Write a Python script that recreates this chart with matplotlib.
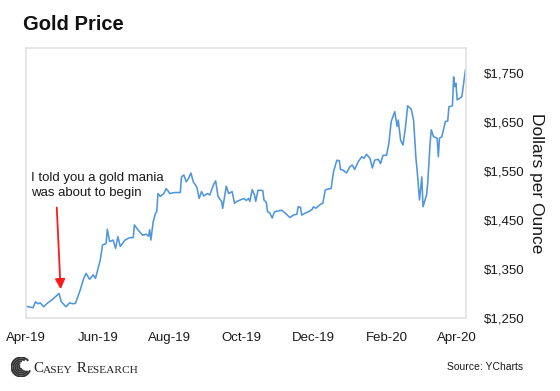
import numpy as np
import pandas as pd
import matplotlib
matplotlib.use("Agg")
import matplotlib.pyplot as plt
import matplotlib.dates as mdates
from matplotlib.patches import Arc

plt.rcParams['font.family'] = ['Liberation Sans', 'DejaVu Sans']

## gold price: days after 2019-04-01 and $/oz
days = [0, 6, 8, 10, 12, 15, 18, 22, 28, 30, 34, 37, 40, 42, 46, 49, 51, 54, 57, 59,
        63, 65, 68, 69, 71, 74, 76, 78, 80, 84, 88, 91, 92, 95, 99, 102, 104, 105, 106, 108,
        110, 111, 112, 114, 117, 119, 121, 122, 126, 131, 132, 134, 136, 138, 140, 142, 145, 147, 149, 151,
        154, 156, 159, 161, 163, 165, 166, 167, 170, 172, 175, 177, 179, 182, 185, 187, 189, 190, 192, 194,
        195, 197, 201, 202, 204, 205, 207, 209, 211, 213, 217, 220, 224, 227, 230, 231, 233, 234, 237, 240,
        243, 244, 246, 250, 252, 254, 256, 259, 261, 263, 264, 266, 267, 269, 272, 275, 277, 279, 282, 285,
        287, 289, 292, 294, 296, 299, 301, 303, 306, 308, 310, 313, 315, 316, 318, 320, 322, 324, 327, 329,
        331, 332, 334, 336, 337, 340, 341, 343, 344, 346, 348, 349, 350, 351, 353, 355, 356, 358, 359, 362,
        363, 364, 365, 366, 368, 370, 373]
price = [1274, 1271, 1283, 1279, 1281, 1273, 1280, 1287, 1300, 1283, 1273, 1281, 1279, 1280, 1307, 1331, 1341, 1329, 1338, 1331,
         1368, 1399, 1402, 1431, 1406, 1409, 1392, 1416, 1396, 1409, 1414, 1414, 1440, 1430, 1419, 1421, 1417, 1430, 1409, 1447,
         1464, 1467, 1504, 1498, 1504, 1514, 1508, 1504, 1506, 1506, 1538, 1542, 1528, 1535, 1546, 1528, 1517, 1494, 1508, 1499,
         1504, 1501, 1521, 1530, 1498, 1491, 1488, 1474, 1519, 1504, 1508, 1484, 1488, 1491, 1494, 1490, 1494, 1488, 1512, 1501,
         1488, 1511, 1510, 1491, 1486, 1467, 1464, 1454, 1467, 1468, 1470, 1464, 1455, 1460, 1462, 1477, 1476, 1460, 1464, 1467,
         1472, 1477, 1474, 1482, 1484, 1511, 1513, 1514, 1548, 1565, 1572, 1571, 1553, 1552, 1546, 1559, 1562, 1553, 1569, 1579,
         1576, 1584, 1576, 1556, 1572, 1574, 1565, 1582, 1582, 1606, 1651, 1671, 1641, 1654, 1613, 1603, 1637, 1683, 1676, 1654,
         1576, 1552, 1491, 1538, 1477, 1501, 1525, 1606, 1634, 1620, 1618, 1617, 1579, 1617, 1620, 1641, 1651, 1652, 1681, 1683,
         1742, 1722, 1729, 1695, 1698, 1702, 1756]

tick_dates = ['2019-04-01', '2019-06-01', '2019-08-01', '2019-10-01', '2019-12-01', '2020-02-01', '2020-04-01']
y_ticks = [1250, 1350, 1450, 1550, 1650, 1750]

start = pd.Timestamp('2019-04-01')
dates = start + pd.to_timedelta(days, unit='D')

fig = plt.figure(figsize=(5.6, 3.91), dpi=100)
ax = fig.add_axes([26/560, 1-318/391, 440/560, 270/391])

ax.plot(dates, price, color='#5096dc', lw=1.15)

ax.set_xlim(start, start + pd.Timedelta(days=373.5))
ax.set_ylim(1250, 1801)

ax.set_xticks(pd.to_datetime(tick_dates))
ax.xaxis.set_major_formatter(mdates.DateFormatter('%b-%y'))
ax.set_yticks(y_ticks)
ax.yaxis.set_major_formatter(matplotlib.ticker.FuncFormatter(lambda v, p: f"${v:,.0f}"))
ax.yaxis.tick_right()
ax.tick_params(axis='both', length=0, labelsize=9.5, colors='#1a1a1a')
ax.tick_params(axis='x', pad=10)
ax.tick_params(axis='y', pad=13)
for s in ax.spines.values():
    s.set_color('#e2e2e2')
    s.set_linewidth(1.2)

ax.yaxis.set_label_position('right')
ax.set_ylabel('Dollars per Ounce', rotation=-90, fontsize=12.5, labelpad=14, color='#1a1a1a')

## callout
ax.annotate('', xy=(start + pd.Timedelta(days=29.5), 1303), xytext=(start + pd.Timedelta(days=26), 1481),
            arrowprops=dict(arrowstyle='-|>,head_width=0.3,head_length=0.6', color='#ff1a1a', lw=1.3))
ax.text(start + pd.Timedelta(days=4), 1521, 'I told you a gold mania\nwas about to begin',
        fontsize=9.5, va='center', ha='left', linespacing=1.35, color='#1a1a1a')

fig.text(23/560, 1-25/391, 'Gold Price', fontsize=14.5, fontweight='bold', va='center', ha='left', color='#111111')
fig.text(523/560, 1-367/391, 'Source: YCharts', fontsize=7.5, va='center', ha='right', color='#1a1a1a')

## Casey Research logo
lax = fig.add_axes([11/560, 1-377/391, 20/560, 20/391])
lax.set_aspect('equal')
lax.set_xlim(-1.05, 1.05)
lax.set_ylim(-1.05, 1.05)
lax.axis('off')
for r, a1, a2 in [(1.0, 40, 340), (0.8, 60, 330), (0.6, 80, 320), (0.4, 100, 310), (0.2, 120, 300)]:
    lax.add_patch(Arc((0, 0), 2*r, 2*r, theta1=a1, theta2=a2, color='#333333', lw=1.4))

serif = dict(family='Liberation Serif', color='#222222')
t1 = fig.text(33/560, 1-372/391, 'C', fontsize=10.8, va='baseline', **serif)
t2 = fig.text(0, 0, '')
t2 = ax.annotate('ASEY', xy=(1, 0), xycoords=t1, fontsize=8.2, va='bottom', annotation_clip=False, **serif)
t3 = ax.annotate(' R', xy=(1, 0), xycoords=t2, fontsize=10.8, va='bottom', annotation_clip=False, **serif)
t4 = ax.annotate('ESEARCH', xy=(1, 0), xycoords=t3, fontsize=8.2, va='bottom', annotation_clip=False, **serif)

fig.savefig('out.png', dpi=100, facecolor='white')
